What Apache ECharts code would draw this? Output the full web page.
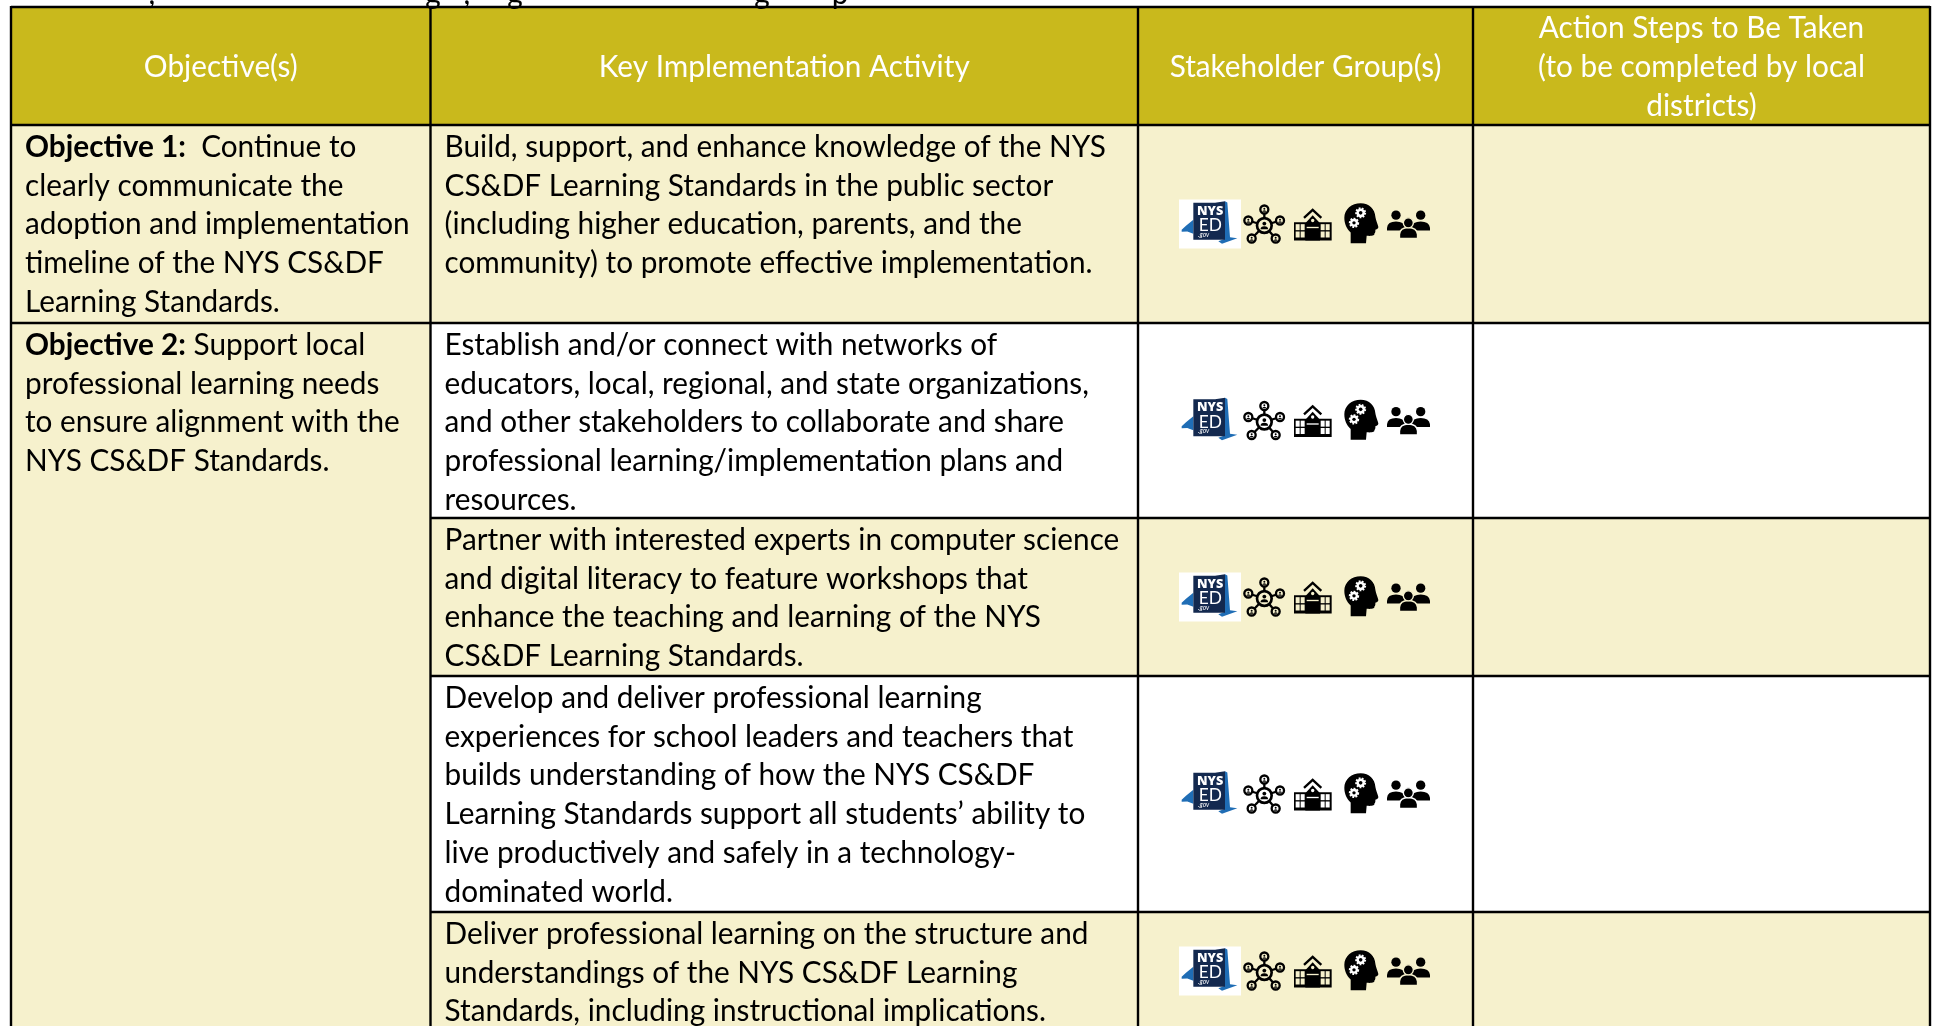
<!DOCTYPE html>
<html><head><meta charset="utf-8">
<style>html,body{margin:0;padding:0;background:#fff}#c{width:1935px;height:1026px}</style>
<script src="https://cdn.jsdelivr.net/npm/echarts@6/dist/echarts.min.js"></script>
</head><body><div id="c"></div>
<script>
// ---------- content ----------
const headers = [
  ["Objective(s)"],
  ["Key Implementation Activity"],
  ["Stakeholder Group(s)"],
  ["Action Steps to Be Taken", "(to be completed by local", "districts)"]
];
const objective1 = ["{b|Objective 1:}  Continue to", "clearly communicate the", "adoption and implementation", "timeline of the NYS CS&DF", "Learning Standards."];
const objective2 = ["{b|Objective 2:} Support local", "professional learning needs", "to ensure alignment with the", "NYS CS&DF Standards."];
const activities = [
  ["Build, support, and enhance knowledge of the NYS", "CS&DF Learning Standards in the public sector", "(including higher education, parents, and the", "community) to promote effective implementation."],
  ["Establish and/or connect with networks of", "educators, local, regional, and state organizations,", "and other stakeholders to collaborate and share", "professional learning/implementation plans and", "resources."],
  ["Partner with interested experts in computer science", "and digital literacy to feature workshops that", "enhance the teaching and learning of the NYS", "CS&DF Learning Standards."],
  ["Develop and deliver professional learning", "experiences for school leaders and teachers that", "builds understanding of how the NYS CS&DF", "Learning Standards support all students\u2019 ability to", "live productively and safely in a technology-", "dominated world."],
  ["Deliver professional learning on the structure and", "understandings of the NYS CS&DF Learning", "Standards, including instructional implications."]
];
const topFragments = [[152, ","], [433, "g"], [467, ","], [515, "g"], [762, "g"], [840, "p"]];

// ---------- table layout (axis units = page pixels) ----------
const colEdges = [11, 430.5, 1138, 1473, 1930];
const rowEdges = [7, 125, 323, 518, 676, 912, 1030];
const rowShade = [true, false, true, false, true];
const LINE = 38.7, FONT = 31, SQUEEZE = 0.96;
const C = {gold: "#C9B91C", pale: "#F6F1CD", white: "#FFFFFF", ink: "#000000", head: "#FFFFFF"};
const FAMILY = 'Lato, "Open Sans", sans-serif';

// ---------- flat mark lists ----------
const cells = [];
for (let c = 0; c < 4; c++) cells.push([colEdges[c], rowEdges[0], colEdges[c + 1], rowEdges[1], C.gold]);
cells.push([colEdges[0], rowEdges[1], colEdges[1], rowEdges[2], C.pale]);
cells.push([colEdges[0], rowEdges[2], colEdges[1], rowEdges[6], C.pale]);
for (let r = 0; r < 5; r++) cells.push([colEdges[1], rowEdges[r + 1], colEdges[4], rowEdges[r + 2], rowShade[r] ? C.pale : C.white]);

const rules = [];
colEdges.forEach(x => rules.push([x, rowEdges[0] - 1, x, rowEdges[6]]));
rules.push([colEdges[0], rowEdges[0], colEdges[4], rowEdges[0]]);
rules.push([colEdges[0], rowEdges[1], colEdges[4], rowEdges[1]]);
rules.push([colEdges[0], rowEdges[2], colEdges[4], rowEdges[2]]);
[3, 4, 5].forEach(r => rules.push([colEdges[1], rowEdges[r], colEdges[4], rowEdges[r]]));

const texts = [];
const midY = (rowEdges[0] + rowEdges[1]) / 2 + 1;
headers.forEach((lines, c) => {
  const cx = (colEdges[c] + colEdges[c + 1]) / 2;
  lines.forEach((t, i) => texts.push([cx, midY + (i - (lines.length - 1) / 2) * LINE, t, "center", C.head]));
});
const firstLine = r => rowEdges[r + 1] + 22;
const addBlock = (lines, x, r) => lines.forEach((t, i) => texts.push([x, firstLine(r) + i * LINE, t, "left", C.ink]));
addBlock(objective1, colEdges[0] + 14, 0);
addBlock(objective2, colEdges[0] + 14, 1);
activities.forEach((lines, r) => addBlock(lines, colEdges[1] + 14, r));
topFragments.forEach(f => texts.push([f[0], -6, f[1], "center", C.ink]));

const iconRows = rowShade.map((s, r) => [1150, (rowEdges[r + 1] + rowEdges[r + 2]) / 2, s ? C.pale : C.white]);

// ---------- icon artwork (local design units, 3 per page pixel) ----------
const INK = "#000";
function circle(cx, cy, r, fill, stroke, lw, dash) {
  return {type: "circle", shape: {cx, cy, r}, style: {fill, stroke: stroke || null, lineWidth: lw || 0, lineDash: dash || null}};
}
function path(d, fill, stroke, lw) {
  return {type: "path", shape: {pathData: d}, style: {fill: fill || "none", stroke: stroke || null, lineWidth: lw || 0}};
}
function person(cx, cy, s, fill) {
  return [circle(cx, cy - 3 * s, 3 * s, fill),
    path(`M${cx - 6 * s},${cy + 6 * s} Q${cx - 6 * s},${cy + s} ${cx},${cy + s} Q${cx + 6 * s},${cy + s} ${cx + 6 * s},${cy + 6 * s} Z`, fill)];
}
function artwork(bg) {
  const out = [];
  // NYSED logo
  out.push({type: "rect", shape: {x: 87, y: 87, width: 186, height: 147}, style: {fill: "#fff"}});
  out.push(path("M95,178 L108,166 L130,148 L130,190 L112,183 L95,184 Z", "#1F6DB5"));
  out.push(path("M225,92 L232,96 L240,200 L262,203 L216,220 L205,212 L225,205 Z", "#1F6DB5"));
  out.push(path("M130,97 L195,97 L225,92 L225,208 L130,208 Z", "#13294F"));
  const logoText = (t, x, y, font) => ({type: "text", x, y, style: {text: t, fill: "#fff", font, textAlign: "left", textVerticalAlign: "middle"}});
  out.push(logoText("NYS", 141, 122, '800 38px "Liberation Sans Narrow", "Open Sans", sans-serif'));
  out.push(logoText("ED", 146, 165, '400 52px Lato, sans-serif'));
  out.push(logoText(".gov", 144, 193, 'italic 400 20px Lato, sans-serif'));
  // network
  const nodes = [[343, 117], [390, 150], [377, 204], [305, 204], [295, 150]];
  nodes.forEach(n => out.push(path(`M343,165 L${n[0]},${n[1]}`, "none", INK, 7)));
  nodes.forEach(n => { out.push(circle(n[0], n[1], 12, bg, INK, 7)); out.push(...person(n[0], n[1] + 1, 1, INK)); });
  out.push(circle(343, 165, 22, bg, INK, 8));
  out.push(...person(343, 165, 1.9, INK));
  // school
  out.push(path("M462,142 L488,118 L514,142", "none", INK, 7));
  out.push({type: "rect", shape: {x: 432, y: 155, width: 113, height: 55}, style: {fill: INK}});
  out.push(path("M466,158 L488,134 L510,158 L510,210 L466,210 Z", INK));
  out.push(circle(488, 150, 5, bg));
  out.push({type: "rect", shape: {x: 470, y: 169, width: 36, height: 4}, style: {fill: bg}});
  [437, 452, 512, 527].forEach(x => [161, 183].forEach(y =>
    out.push({type: "rect", shape: {x, y, width: 12, height: 18}, style: {fill: bg}})));
  // head with gears
  out.push(path("M602,218 L602,186 C590,175 583,160 583,142 C583,116 605,98 632,98 C658,98 675,116 676,138 C677,148 685,165 685,170 C685,175 678,176 676,178 C677,184 675,188 673,190 C674,195 668,197 650,196 L648,218 Z", INK));
  [[632, 127, 13], [612, 157, 12]].forEach(g => {
    out.push(circle(g[0], g[1], g[2], "#fff", "#fff", 7, [5, 4]));
    out.push(circle(g[0], g[1], g[2] * 0.42, INK));
  });
  // people
  out.push(circle(738, 134, 14, INK));
  out.push(circle(812, 134, 14, INK));
  out.push(path("M711,180 L711,172 Q713,153 738,153 Q763,153 765,172 L765,180 Z", INK));
  out.push(path("M785,180 L785,172 Q787,153 812,153 Q837,153 840,172 L840,180 Z", INK));
  out.push(path("M748,204 L748,192 Q750,171 775,171 Q800,171 803,192 L803,204 Z", INK, bg, 5));
  out.push(circle(775, 157, 15, INK, bg, 4));
  return out;
}

// ---------- chart ----------
const chart = echarts.init(document.getElementById("c"), null, {renderer: "canvas"});
function P(api, x, y) { return api.coord([x, y]); }
chart.setOption({
  animation: false,
  backgroundColor: "#fff",
  grid: {left: 0, right: 0, top: 0, bottom: 0, containLabel: false},
  xAxis: {type: "value", min: 0, max: 1935, show: false},
  yAxis: {type: "value", min: 0, max: 1026, inverse: true, show: false},
  tooltip: {show: false},
  series: [
    {type: "custom", coordinateSystem: "cartesian2d", silent: true, clip: false, data: cells.map(c => [c[0], c[1]]),
      renderItem(params, api) {
        const c = cells[params.dataIndex], a = P(api, c[0], c[1]), b = P(api, c[2], c[3]);
        return {type: "rect", shape: {x: a[0], y: a[1], width: b[0] - a[0], height: b[1] - a[1]}, style: {fill: c[4]}};
      }},
    {type: "custom", coordinateSystem: "cartesian2d", silent: true, clip: false, data: rules.map(c => [c[0], c[1]]),
      renderItem(params, api) {
        const c = rules[params.dataIndex], a = P(api, c[0], c[1]), b = P(api, c[2], c[3]);
        return {type: "line", shape: {x1: a[0], y1: a[1], x2: b[0], y2: b[1]}, style: {stroke: "#000", lineWidth: 2.4}};
      }},
    {type: "custom", coordinateSystem: "cartesian2d", silent: true, clip: false, data: iconRows.map(c => [c[0], c[1]]),
      renderItem(params, api) {
        const c = iconRows[params.dataIndex], a = P(api, c[0], c[1]);
        return {type: "group", x: a[0], y: a[1] - 53.5, scaleX: 1 / 3, scaleY: 1 / 3, children: artwork(c[2])};
      }},
    {type: "custom", coordinateSystem: "cartesian2d", silent: true, clip: false, data: texts.map(c => [c[0], c[1]]),
      renderItem(params, api) {
        const c = texts[params.dataIndex], a = P(api, c[0], c[1]);
        return {type: "text", x: a[0], y: a[1], scaleX: SQUEEZE, style: {
          text: c[2], fill: c[4], font: `400 ${FONT}px ${FAMILY}`, textAlign: c[3], textVerticalAlign: "middle",
          rich: {b: {fontWeight: 700, fontSize: FONT, fontFamily: FAMILY, fill: c[4]}}
        }};
      }}
  ]
});
</script></body></html>
